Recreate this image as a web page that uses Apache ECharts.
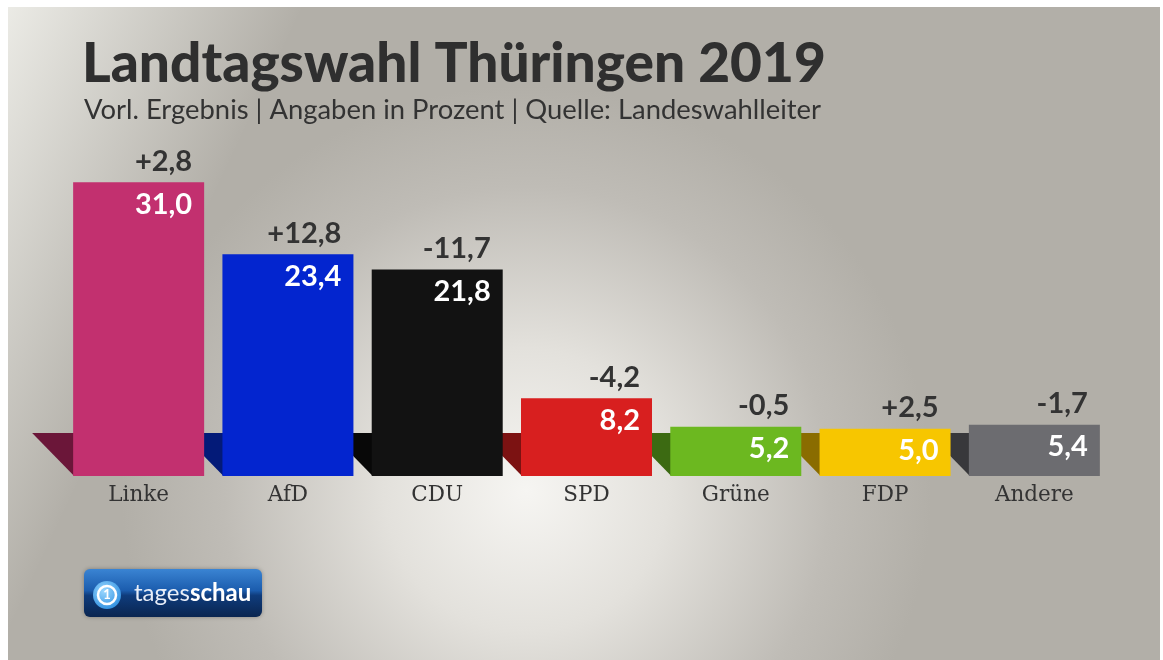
<!DOCTYPE html>
<html lang="de">
<head>
    <meta charset="UTF-8">
    <title>Landtagswahl Thüringen 2019</title>
    <style>
        html, body { margin: 0; padding: 0; background: #ffffff; }
        #chart { width: 1163px; height: 660px; }
    </style>
    <script src="https://cdn.jsdelivr.net/npm/echarts@6/dist/echarts.min.js"></script>
</head>
<body>
    <div id="chart"></div>
    <script>
        // Daten
        const parties = ['Linke', 'AfD', 'CDU', 'SPD', 'Grüne', 'FDP', 'Andere'];
        const results = [31.0, 23.4, 21.8, 8.2, 5.2, 5.0, 5.4];
        const changes = [2.8, 12.8, -11.7, -4.2, -0.5, 2.5, -1.7];

        // Farben
        const barColors = ['#c2306f', '#0325cf', '#121212', '#d81f1f', '#6cb820', '#f7c600', '#6c6c70'];
        const shadowColors = ['#6b1639', '#031a78', '#080808', '#7c1212', '#3c6a12', '#8a6c00', '#38383b'];

        const BAR_W = 131;
        const SHADOW_W = 41;
        const SHADOW_H = 43;
        const SANS = 'Lato, "Open Sans", sans-serif';

        function fmt(v, sign) {
            const s = Math.abs(v).toFixed(1).replace('.', ',');
            if (!sign) return s;
            return (v > 0 ? '+' : '-') + s;
        }

        const chart = echarts.init(document.getElementById('chart'));

        const option = {
            animation: false,
            grid: { left: 64, right: 54, top: 97, bottom: 184 },
            xAxis: {
                type: 'category',
                data: parties,
                axisLine: { show: false },
                axisTick: { show: false },
                axisLabel: {
                    margin: 8,
                    fontFamily: '"DejaVu Serif", serif',
                    fontSize: 21.5,
                    color: '#333333'
                }
            },
            yAxis: {
                type: 'value',
                min: 0,
                max: 40,
                show: false
            },
            graphic: [
                {
                    type: 'rect',
                    z: -10,
                    silent: true,
                    shape: { x: 8, y: 7, width: 1152, height: 653 },
                    style: {
                        fill: new echarts.graphic.RadialGradient(0.45, 0.74, 0.62, [
                            { offset: 0, color: '#f6f5f2' },
                            { offset: 0.35, color: '#e3e1dc' },
                            { offset: 0.75, color: '#bfbcb6' },
                            { offset: 1, color: '#b2afa8' }
                        ])
                    }
                },
                {
                    type: 'rect',
                    z: -9,
                    silent: true,
                    shape: { x: 8, y: 7, width: 1152, height: 653 },
                    style: {
                        fill: new echarts.graphic.LinearGradient(0, 0, 0.6, 0.5, [
                            { offset: 0, color: 'rgba(245,245,240,0.85)' },
                            { offset: 0.35, color: 'rgba(245,245,240,0)' },
                            { offset: 1, color: 'rgba(245,245,240,0)' }
                        ])
                    }
                },
                {
                    type: 'text',
                    left: 82,
                    top: 37,
                    style: {
                        text: 'Landtagswahl Thüringen 2019',
                        font: '900 55px ' + SANS,
                        fill: '#2f2f2f'
                    }
                },
                {
                    type: 'text',
                    left: 84,
                    top: 97,
                    style: {
                        text: 'Vorl. Ergebnis | Angaben in Prozent | Quelle: Landeswahlleiter',
                        font: '27.4px ' + SANS,
                        fill: '#333333'
                    }
                },
                {
                    type: 'group',
                    left: 84,
                    top: 569,
                    children: [
                        {
                            type: 'rect',
                            shape: { x: 0, y: 0, width: 178, height: 48, r: 6 },
                            style: {
                                fill: new echarts.graphic.LinearGradient(0, 0, 0, 1, [
                                    { offset: 0, color: '#3a84d3' },
                                    { offset: 0.45, color: '#1b5cad' },
                                    { offset: 0.55, color: '#0f3c7c' },
                                    { offset: 1, color: '#0a2550' }
                                ]),
                                shadowBlur: 4,
                                shadowColor: 'rgba(0,0,0,0.3)'
                            }
                        },
                        {
                            type: 'circle',
                            shape: { cx: 23, cy: 26, r: 14 },
                            style: {
                                fill: new echarts.graphic.RadialGradient(0.4, 0.35, 0.7, [
                                    { offset: 0, color: '#9ad8ff' },
                                    { offset: 1, color: '#2f8fe0' }
                                ])
                            }
                        },
                        {
                            type: 'circle',
                            shape: { cx: 23, cy: 26, r: 9 },
                            style: { fill: 'none', stroke: '#ffffff', lineWidth: 2.5 }
                        },
                        {
                            type: 'text',
                            x: 23,
                            y: 26,
                            style: {
                                text: '1',
                                font: 'bold 13px ' + SANS,
                                fill: '#ffffff',
                                align: 'center',
                                verticalAlign: 'middle'
                            }
                        },
                        {
                            type: 'text',
                            x: 50,
                            y: 24,
                            style: {
                                text: '{a|tages}{b|schau}',
                                verticalAlign: 'middle',
                                rich: {
                                    a: { font: '24px ' + SANS, fill: '#e8eef8', color: '#e8eef8' },
                                    b: { font: 'bold 24px ' + SANS, fill: '#ffffff', color: '#ffffff' }
                                }
                            }
                        }
                    ]
                }
            ],
            series: [
                {
                    // Schatten links unten an jedem Balken
                    type: 'custom',
                    z: 1,
                    silent: true,
                    data: parties.map((p, i) => [i, 0]),
                    renderItem: function (params, api) {
                        const i = api.value(0);
                        const base = api.coord([i, 0]);
                        const l = base[0] - BAR_W / 2;
                        return {
                            type: 'polygon',
                            shape: {
                                points: [
                                    [l - SHADOW_W, base[1] - SHADOW_H],
                                    [l + 1, base[1] - SHADOW_H],
                                    [l + 1, base[1]]
                                ]
                            },
                            style: { fill: shadowColors[i] }
                        };
                    }
                },
                {
                    type: 'bar',
                    z: 2,
                    barWidth: BAR_W,
                    data: results.map((v, i) => ({
                        value: v,
                        itemStyle: { color: barColors[i] }
                    })),
                    label: {
                        show: true,
                        position: ['100%', 0],
                        offset: [-12, 22],
                        align: 'right',
                        verticalAlign: 'middle',
                        formatter: p => fmt(p.value, false),
                        fontFamily: SANS,
                        fontWeight: 'bold',
                        fontSize: 29,
                        color: '#ffffff'
                    }
                },
                {
                    // Gewinne/Verluste über den Balken
                    type: 'custom',
                    z: 3,
                    silent: true,
                    data: parties.map((p, i) => [i, results[i], changes[i]]),
                    encode: { x: 0, y: 1 },
                    renderItem: function (params, api) {
                        const i = api.value(0);
                        const top = api.coord([i, api.value(1)]);
                        return {
                            type: 'text',
                            style: {
                                text: fmt(api.value(2), true),
                                x: top[0] + BAR_W / 2 - 12,
                                y: top[1] - 21,
                                align: 'right',
                                verticalAlign: 'middle',
                                font: 'bold 29px ' + SANS,
                                fill: '#333333'
                            }
                        };
                    }
                }
            ]
        };

        chart.setOption(option);
    </script>
</body>
</html>
